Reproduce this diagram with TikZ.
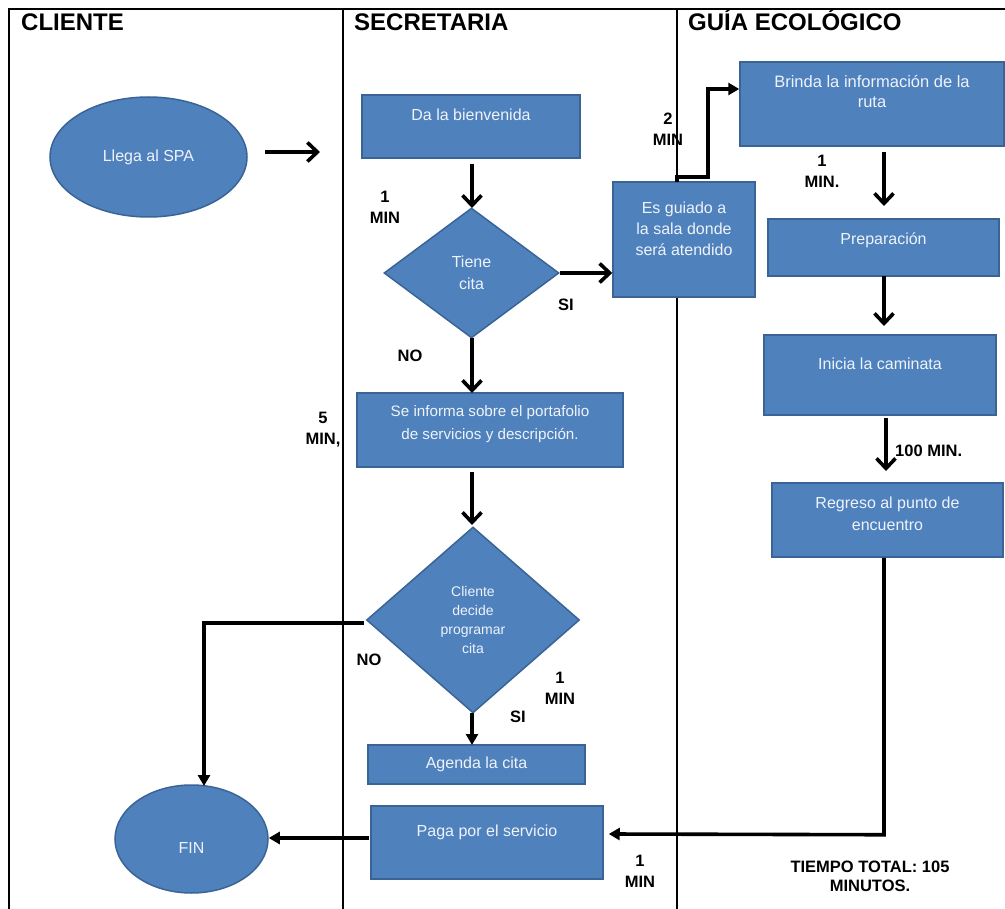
\documentclass[tikz,border=0pt]{standalone}
\usepackage{fontspec}
\setmainfont{Liberation Sans}
\usetikzlibrary{shapes.geometric,arrows.meta,calc}
\definecolor{boxfill}{HTML}{4F81BD}
\definecolor{boxline}{HTML}{3A6496}
\definecolor{boxtext}{HTML}{EEF3FA}
\begin{document}
\begin{tikzpicture}[x=1pt,y=-1pt,
  shp/.style={fill=boxfill, draw=boxline, line width=1.5pt, inner sep=0pt},
  box/.style={shp, rectangle},
  oval/.style={shp, ellipse, text=boxtext, font=\fontsize{16}{22}\selectfont},
  dia/.style={shp, diamond, text=boxtext, align=center},
  txt/.style={text=boxtext, font=\fontsize{16}{22}\selectfont, align=center, inner sep=0pt, anchor=center},
  lbl/.style={font=\bfseries\fontsize{16.5}{21}\selectfont, align=center, inner sep=0pt},
  head/.style={font=\bfseries\fontsize{24}{28}\selectfont, inner sep=0pt, anchor=base west},
  frame/.style={line width=1.7pt},
  arr/.style={line width=3.6pt, -{Straight Barb[length=10pt,width=19pt]}},
  arrt/.style={line width=3.6pt, -{Triangle[length=11pt,width=12pt]}}
]
\useasboundingbox (0,0) rectangle (1005,909);
% frame
\draw[frame] (1005,9) -- (9,9) -- (9,909);
\draw[frame] (343,9) -- (343,909);
\draw[frame] (677,9) -- (677,909);
\node[head] (h1) at (21,31) {CLIENTE};
\node[head] (h2) at (354,31) {SECRETARIA};
\node[head] (h3) at (688,31) {GUÍA ECOLÓGICO};

% shapes
\node[oval, minimum width=197pt, minimum height=120pt] (spa) at (148.5,157) {Llega al SPA};
\node[box, minimum width=218pt, minimum height=63pt,
  label={[txt,yshift=11.5pt]center:Da la bienvenida}] (bien) at (471,126.5) {};
\node[dia, minimum width=175pt, minimum height=130pt, font=\fontsize{16}{22}\selectfont] (tiene) at (471.5,273) {Tiene\\cita};
\node[box, minimum width=142pt, minimum height=115pt,
  label={[txt,yshift=10.5pt,font=\fontsize{16}{21}\selectfont]center:Es guiado a\\la sala donde\\será atendido}] (guiado) at (684,239.5) {};
\node[box, minimum width=264pt, minimum height=84pt,
  label={[txt,yshift=12pt,font=\fontsize{16.5}{20}\selectfont]center:Brinda la información de la\\ruta}] (brinda) at (872,104) {};
\node[box, minimum width=231pt, minimum height=57pt,
  label={[txt,yshift=7.5pt]center:Preparación}] (prep) at (883.5,247.5) {};
\node[box, minimum width=232pt, minimum height=80pt,
  label={[txt,yshift=11pt]center:Inicia la caminata}] (inicia) at (880,375) {};
\node[box, minimum width=231pt, minimum height=74pt,
  label={[txt,yshift=6pt]center:Regreso al punto de\\encuentro}] (regreso) at (887.5,520) {};
\node[box, minimum width=266pt, minimum height=74pt,
  label={[txt,yshift=5.5pt,font=\fontsize{15.2}{23}\selectfont]center:Se informa sobre el portafolio\\de servicios y descripción.}] (informa) at (490,430) {};
\node[dia, minimum width=213pt, minimum height=186pt, font=\fontsize{14}{19}\selectfont] (cliente) at (473,620) {Cliente\\decide\\programar\\cita};
\node[box, minimum width=217pt, minimum height=39pt,
  label={[txt]center:Agenda la cita}] (agenda) at (476.5,764.5) {};
\node[box, minimum width=232pt, minimum height=73pt,
  label={[txt,yshift=10.5pt]center:Paga por el servicio}] (paga) at (487,842.5) {};
\node[shp, ellipse, minimum width=153pt, minimum height=108pt,
  label={[txt,yshift=-9pt]center:FIN}] (fin) at (191.5,839) {};

% connectors
\coordinate (a1) at (265,152);
\coordinate (a2) at (320,152);
\draw[arr] (a1) -- (a2);
\draw[arr] (472,164) -- (472,208);
\draw[arr] (tiene.east) -- (guiado.west |- tiene.east);
\draw[arrt] (677,182) -- (677,177) -- (708,177) -- (708,89) -- ($(brinda.west)+(0,-15)$);
\draw[arr, shorten >=13pt] (884,152) -- (884,219);
\draw[arr, shorten >=9pt] (884,276) -- (884,335);
\draw[arr, shorten >=12pt] (886,418) -- (886,483);
\draw[arrt] ($(regreso.south)+(-3.5,0)$) -- ++(0,277) -- ($(paga.east)+(5,-8.5)$);
\draw[arrt] ($(paga.west)+(-1,-4.5)$) -- (fin.east |- 0,838);
\draw[arr] (472,338) -- (472,393);
\draw[arr, shorten >=2pt] (472,472) -- (472,527);
\draw[arrt] (472,713) -- (472,745);
\draw[arrt] ($(cliente.west)+(-2,3)$) -- (204,623) -- (204,786);

% labels
\node[lbl] (l1) at (385,207) {1\\MIN};
\node[lbl] (l2) at (566,305) {SI};
\node[lbl] (l3) at (410,356) {NO};
\node[lbl] (l4) at (323,430) {5\\MIN,};
\node[lbl] (l5) at (668,129) {2\\MIN};
\node[lbl] (l6) at (822,171) {1\\MIN.};
\node[lbl, anchor=west] (l7) at (895,451) {100 MIN.};
\node[lbl] (l8) at (369,660) {NO};
\node[lbl] (l9) at (560,688) {1\\MIN};
\node[lbl] (l10) at (518,717) {SI};
\node[lbl] (l11) at (640,871) {1\\MIN};
\node[lbl, font=\bfseries\fontsize{16.5}{19}\selectfont] (l12) at (870,876) {TIEMPO TOTAL: 105\\MINUTOS.};
\end{tikzpicture}
\end{document}
